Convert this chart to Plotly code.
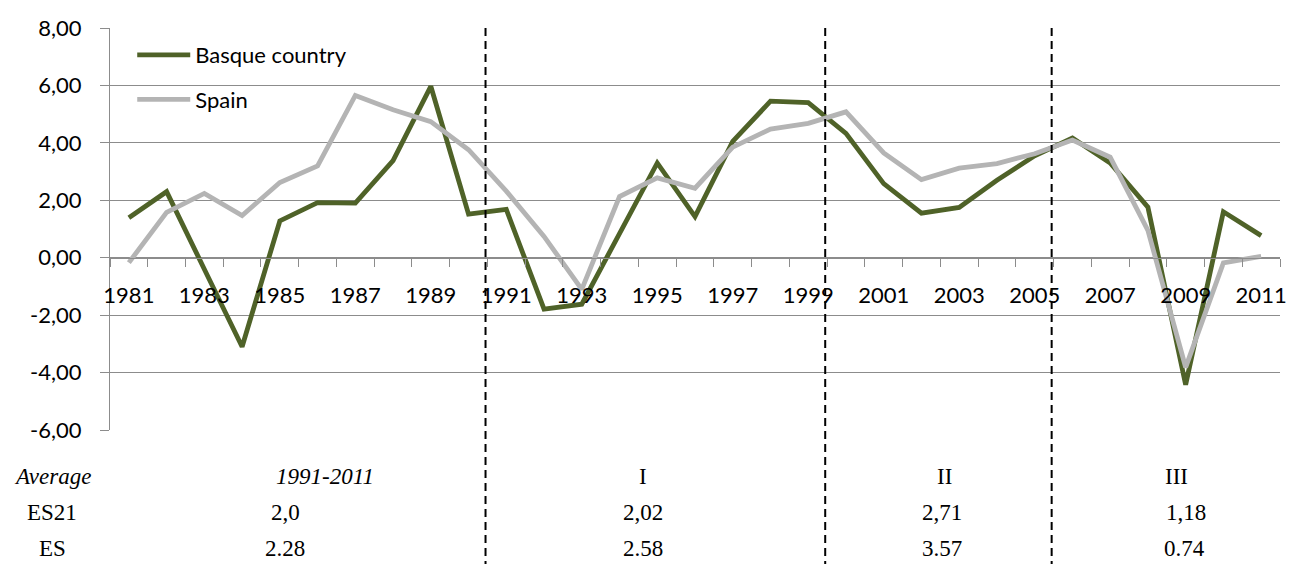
import plotly.graph_objects as go

years = list(range(1981, 2012))
basque = [1.39, 2.30, -0.40, -3.10, 1.28, 1.92, 1.90, 3.38, 5.97, 1.52,
          1.68, -1.79, -1.62, 0.85, 3.30, 1.43, 4.05, 5.45, 5.40, 4.33,
          2.58, 1.55, 1.75, 2.70, 3.55, 4.17, 3.30, 1.76, -4.42, 1.60, 0.77]
spain = [-0.17, 1.58, 2.24, 1.47, 2.62, 3.20, 5.65, 5.15, 4.74, 3.76,
         2.32, 0.74, -1.10, 2.13, 2.78, 2.42, 3.85, 4.48, 4.68, 5.08,
         3.65, 2.72, 3.12, 3.28, 3.62, 4.10, 3.50, 0.95, -3.82, -0.18, 0.05]

ytick_vals = [-6, -4, -2, 0, 2, 4, 6, 8]
ytick_text = ["-6,00", "-4,00", "-2,00", "0,00", "2,00", "4,00", "6,00", "8,00"]
xtick_vals = list(range(1981, 2012, 2))
xtick_text = [str(y) for y in xtick_vals]

period_breaks = [1990.45, 1999.45, 2005.45]

row_labels = ["Average", "ES21", "ES"]
avg_labels = ["1991-2011", "I", "II", "III"]
es21_vals = ["2,0", "2,02", "2,71", "1,18"]
es_vals = ["2.28", "2.58", "3.57", "0.74"]

W, H = 1296, 564
L, R, T, B = 110, 9, 28, 134
PW, PH = W - L - R, H - T - B

def px(xp):
    return (xp - L) / PW

def py(yp):
    return (H - B - yp) / PH

fig = go.Figure()
fig.add_trace(go.Scatter(x=years, y=basque, mode="lines", name="Basque country",
                         line=dict(color="#4F6228", width=4.8),
                         legendgroup="a", legendrank=1))
fig.add_trace(go.Scatter(x=years, y=spain, mode="lines", name="Spain",
                         line=dict(color="#B4B4B4", width=4.8),
                         legendgroup="b", legendrank=2))

for xb in period_breaks:
    fig.add_shape(type="line", xref="x", yref="paper", x0=xb, x1=xb,
                  y0=1, y1=py(H), line=dict(color="black", width=2, dash="8px,5px"),
                  layer="above")

tfont = dict(family="Liberation Serif", size=23, color="black")
row_y = [py(476), py(512.5), py(548.5)]
col_head_x = [326, 646, 949, 1183]
col_v1_x = [287, 646, 947, 1192]
col_v2_x = [286, 646, 947, 1191]

ann = []
for lab, yy, it in zip(row_labels, row_y, [True, False, False]):
    t = f"<i>{lab}</i>" if it else lab
    ann.append(dict(text=t, x=px(52), y=yy, xref="paper", yref="paper",
                    showarrow=False, xanchor="center", yanchor="middle", font=tfont))
for i, lab in enumerate(avg_labels):
    t = f"<i>{lab}</i>" if i == 0 else lab
    ann.append(dict(text=t, x=px(col_head_x[i]), y=row_y[0], xref="paper", yref="paper",
                    showarrow=False, xanchor="center", yanchor="middle", font=tfont))
for i, v in enumerate(es21_vals):
    ann.append(dict(text=v, x=px(col_v1_x[i]), y=row_y[1], xref="paper", yref="paper",
                    showarrow=False, xanchor="center", yanchor="middle", font=tfont))
for i, v in enumerate(es_vals):
    ann.append(dict(text=v, x=px(col_v2_x[i]), y=row_y[2], xref="paper", yref="paper",
                    showarrow=False, xanchor="center", yanchor="middle", font=tfont))

grid_c = "#8C8C8C"
fig.update_layout(
    width=W, height=H,
    margin=dict(l=L, r=R, t=T, b=B),
    paper_bgcolor="white", plot_bgcolor="white",
    font=dict(family="Lato", size=22, color="black"),
    showlegend=True,
    legend=dict(x=0.019, y=0.985, xanchor="left", yanchor="top",
                bgcolor="rgba(0,0,0,0)", font=dict(family="Lato", size=22, color="black"),
                tracegroupgap=13, itemwidth=53, traceorder="grouped"),
    annotations=ann,
    xaxis=dict(range=[1980.5, 2011.5], anchor="free", position=6 / 14,
               tickmode="array", tickvals=xtick_vals, ticktext=xtick_text,
               ticks="", showgrid=False, zeroline=False,
               showline=True, linecolor=grid_c, linewidth=1.3,
               ticklabelstandoff=18,
               minor=dict(tickmode="linear", tick0=1980.5, dtick=1, ticks="outside",
                          ticklen=8, tickwidth=1.3, tickcolor=grid_c, showgrid=False),
               tickfont=dict(family="Lato", size=22, color="black")),
    yaxis=dict(range=[-6, 8], tickmode="array", tickvals=ytick_vals, ticktext=ytick_text,
               showgrid=True, gridcolor=grid_c, gridwidth=1.3, zeroline=False,
               showline=True, linecolor=grid_c, linewidth=1.3,
               ticks="outside", ticklen=9, tickwidth=1.3, tickcolor=grid_c,
               ticklabelstandoff=14,
               tickfont=dict(family="Lato", size=22, color="black")),
)

fig.write_html("out.html", config={"displayModeBar": False},
               post_script="document.body.style.margin='0';document.body.style.padding='0';")
